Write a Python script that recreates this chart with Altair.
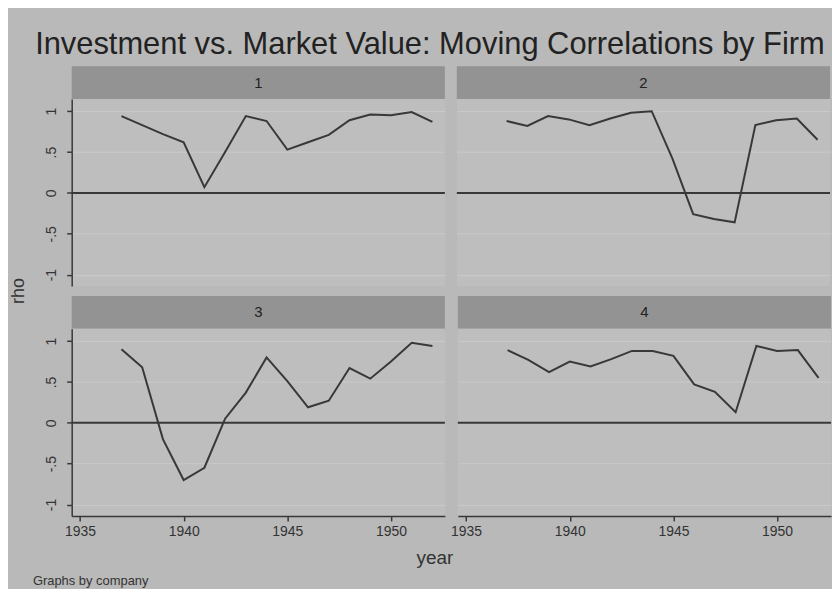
import altair as alt
import pandas as pd

years = list(range(1937, 1953))
firms = ["1", "2", "3", "4"]
rho_firm1 = [0.94, 0.83, 0.72, 0.62, 0.07, 0.50, 0.94, 0.88, 0.53, 0.62, 0.71, 0.89, 0.96, 0.95, 0.99, 0.87]
rho_firm2 = [0.88, 0.82, 0.94, 0.90, 0.83, 0.91, 0.98, 1.00, 0.42, -0.26, -0.32, -0.36, 0.83, 0.89, 0.91, 0.65]
rho_firm3 = [0.90, 0.68, -0.20, -0.70, -0.55, 0.05, 0.37, 0.80, 0.51, 0.19, 0.27, 0.67, 0.54, 0.75, 0.98, 0.94]
rho_firm4 = [0.89, 0.77, 0.62, 0.75, 0.69, 0.78, 0.88, 0.88, 0.82, 0.47, 0.38, 0.13, 0.94, 0.88, 0.89, 0.55]
series = [rho_firm1, rho_firm2, rho_firm3, rho_firm4]

x_ticks = [1935, 1940, 1945, 1950]
y_ticks = [-1, -0.5, 0, 0.5, 1]
y_tick_labels = ["-1", "-.5", "0", ".5", "1"]

title_text = "Investment vs. Market Value: Moving Correlations by Firm"
x_title = "year"
y_title = "rho"
note_text = "Graphs by company"

BG = "#b9b9b9"
PLOT_BG = "#bebebe"
STRIP = "#939393"
GRID = "#cacaca"
INK = "#383838"
FONT = "Liberation Sans"

W = 375
H = 188
STRIP_H = 33

label_expr = " : ".join(
    [f"datum.value == {v} ? '{l}'" for v, l in zip(y_ticks, y_tick_labels)] + ["''"]
)

xscale = alt.Scale(domain=[1934.6, 1952.6], nice=False, zero=False)
yscale = alt.Scale(domain=[-1.14, 1.15], nice=False, zero=False)


def panel(i, show_x, show_y):
    df = pd.DataFrame({"year": years, "rho": series[i]})
    if show_x:
        xaxis = alt.Axis(values=x_ticks, format="d", title=None, grid=False,
                         domainColor=INK, domainWidth=1.5, tickColor=INK, tickSize=5,
                         tickWidth=1.5, labelFontSize=14, labelColor="#333",
                         labelPadding=4, labelFont=FONT)
    else:
        xaxis = None
    yaxis = alt.Axis(values=y_ticks, title=None, grid=True, gridColor=GRID,
                     gridWidth=1, labelExpr=label_expr,
                     labels=show_y, ticks=show_y, domain=show_y,
                     domainColor=INK, domainWidth=1.5, tickColor=INK, tickSize=5,
                     tickWidth=1.5, labelAngle=270, labelAlign="center",
                     labelBaseline="bottom", labelFontSize=14, labelColor="#333",
                     labelPadding=8, labelFont=FONT)
    line = alt.Chart(df).mark_line(color=INK, strokeWidth=2).encode(
        x=alt.X("year:Q", scale=xscale, axis=xaxis),
        y=alt.Y("rho:Q", scale=yscale, axis=yaxis),
    )
    zero = alt.Chart(pd.DataFrame({"z": [0]})).mark_rule(color=INK, strokeWidth=2).encode(
        y=alt.Y("z:Q", scale=yscale, axis=yaxis),
    )
    plot = alt.layer(zero, line).properties(
        width=W, height=H, view=alt.ViewBackground(fill=PLOT_BG, stroke=None)
    )
    sdf = pd.DataFrame({"firm": [firms[i]]})
    strip_rect = alt.Chart(sdf).mark_rect(color=STRIP).encode(
        x=alt.value(0), x2=alt.value(W), y=alt.value(0), y2=alt.value(STRIP_H)
    )
    strip_text = alt.Chart(sdf).mark_text(
        font=FONT, fontSize=15, color="#222", baseline="middle", align="center"
    ).encode(text="firm:N", x=alt.value(W / 2), y=alt.value(STRIP_H / 2))
    strip = alt.layer(strip_rect, strip_text).properties(width=W, height=STRIP_H)
    return alt.vconcat(strip, plot, spacing=0)


row1 = alt.hconcat(panel(0, False, True), panel(1, False, False), spacing=10)
row2 = alt.hconcat(panel(2, True, True), panel(3, True, False), spacing=4)
grid = alt.vconcat(row1, row2, spacing=10)

GRID_H = 2 * (STRIP_H + H) + 10

rho_chart = alt.Chart(pd.DataFrame({"t": [y_title]})).mark_text(
    font=FONT, fontSize=18, color="#333", angle=270, baseline="middle", align="center"
).encode(text="t:N", x=alt.value(11), y=alt.value(GRID_H / 2)).properties(
    width=20, height=GRID_H
)

year_chart = alt.Chart(pd.DataFrame({"t": [x_title]})).mark_text(
    font=FONT, fontSize=19, color="#333", baseline="middle", align="center"
).encode(text="t:N", x=alt.value(429), y=alt.value(15)).properties(width=820, height=24)

note_chart = alt.Chart(pd.DataFrame({"t": [note_text]})).mark_text(
    font=FONT, fontSize=13, color="#333", baseline="middle", align="left"
).encode(text="t:N", x=alt.value(25), y=alt.value(9)).properties(width=820, height=16)

chart = alt.vconcat(
    alt.hconcat(rho_chart, grid, spacing=16),
    year_chart,
    note_chart,
    spacing=4,
).properties(
    title=alt.TitleParams(title_text, font=FONT, fontSize=31, fontWeight="normal",
                          color="#222", anchor="middle", offset=5, dx=10),
    background=BG,
    padding={"left": 0, "top": 20, "right": 0, "bottom": 0},
).configure_view(stroke=None).configure_concat(spacing=0)

chart.save("out.html", embed_options={"renderer": "svg", "actions": False})
